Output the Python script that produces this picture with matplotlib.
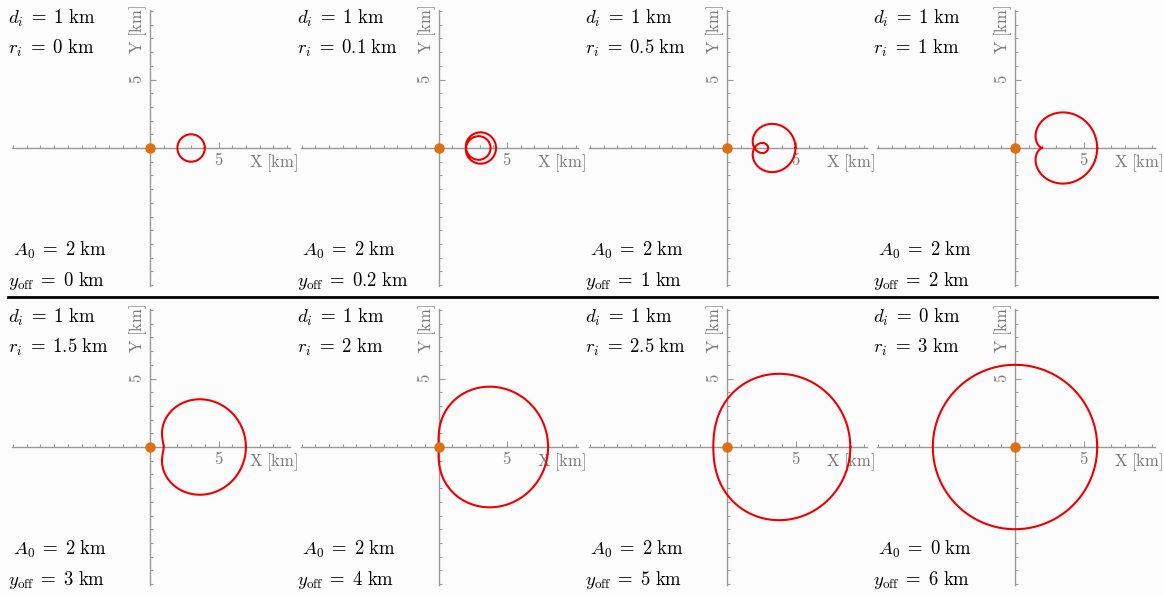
import numpy as np
import matplotlib
matplotlib.use('Agg')
import matplotlib.pyplot as plt
from matplotlib.lines import Line2D
from matplotlib.ticker import FixedLocator, MultipleLocator, FixedFormatter

plt.rcParams['mathtext.fontset'] = 'cm'
plt.rcParams['font.family'] = 'serif'
plt.rcParams['font.serif'] = ['DejaVu Serif']

# orbit parameters, one entry per panel (row-major)
d_i = [1, 1, 1, 1, 1, 1, 1, 0]
r_i = [0, 0.1, 0.5, 1, 1.5, 2, 2.5, 3]
A_0 = [2, 2, 2, 2, 2, 2, 2, 0]
y_off = [0, 0.2, 1, 2, 3, 4, 5, 6]

W, H = 1164, 595
scale = 13.7                      # px per km
origin_x = [150, 438.5, 727, 1015]
origin_y = [148, 447]
xlim = (-10.05, 10.2)
ylim = (-10.1, 10.1)
axis_col = '#9a9a9a'
label_col = '#7a7a7a'

fig = plt.figure(figsize=(W / 100, H / 100), dpi=100, facecolor='#fcfcfc')

for k in range(8):
    row, col = divmod(k, 4)
    ox, oy = origin_x[col], origin_y[row]
    left = (ox + xlim[0] * scale) / W
    bottom = 1 - (oy - ylim[0] * scale) / H
    width = (xlim[1] - xlim[0]) * scale / W
    height = (ylim[1] - ylim[0]) * scale / H
    ax = fig.add_axes([left, bottom, width, height])
    ax.patch.set_alpha(0)
    ax.set_xlim(xlim)
    ax.set_ylim(ylim)

    for side in ['top', 'right']:
        ax.spines[side].set_visible(False)
    for side in ['left', 'bottom']:
        ax.spines[side].set_position('zero')
        ax.spines[side].set_color(axis_col)
        ax.spines[side].set_linewidth(1.0)

    ax.xaxis.set_major_locator(FixedLocator([5]))
    ax.xaxis.set_major_formatter(FixedFormatter([r'$5$']))
    ax.yaxis.set_major_locator(FixedLocator([5]))
    ax.yaxis.set_major_formatter(FixedFormatter([r'$5$']))
    ax.xaxis.set_minor_locator(MultipleLocator(1))
    ax.yaxis.set_minor_locator(MultipleLocator(1))
    ax.tick_params(which='both', direction='in', color=axis_col, width=0.8,
                   labelcolor=label_col, labelsize=12)
    ax.tick_params(which='major', length=4, pad=3)
    ax.tick_params(which='minor', length=2.5)
    for lab in ax.get_yticklabels():
        lab.set_rotation(90)
        lab.set_va('center')

    ax.text(7.2, -0.3, r'$\mathrm{X\ [km]}$', color=label_col, fontsize=12,
            ha='left', va='top', clip_on=False)
    ax.text(-0.85, 10.45, r'$\mathrm{Y\ [km]}$', color=label_col, fontsize=12,
            rotation=90, ha='center', va='top', clip_on=False)

    # limacon traced by the target (closes after half a turn when y_off is 0)
    d, a0, yo = d_i[k], A_0[k], y_off[k]
    period = np.pi if yo == 0 else 2 * np.pi
    t = np.linspace(0, period, 800)
    x = a0 + d + d * np.cos(2 * t) + yo * np.cos(t)
    y = d * np.sin(2 * t) + yo * np.sin(t)
    ax.plot(x, y, color='#ee0000', lw=1.5, clip_on=False, zorder=3)
    ax.plot([0], [0], 'o', color='#dd7010', ms=6.5, zorder=4, clip_on=False)

    fs = 13.5
    ax.text(-10.36, 9.07, r'$d_i\;=\;%g\ \mathrm{km}$' % d, fontsize=fs,
            ha='left', va='baseline', clip_on=False)
    ax.text(-10.36, 6.88, r'$r_i\;=\;%g\ \mathrm{km}$' % r_i[k], fontsize=fs,
            ha='left', va='baseline', clip_on=False)
    ax.text(-10.0, -7.88, r'$A_0\;=\;%g\ \mathrm{km}$' % a0, fontsize=fs,
            ha='left', va='baseline', clip_on=False)
    ax.text(-10.36, -10.07, r'$y_{\mathrm{off}}\;=\;%g\ \mathrm{km}$' % yo,
            fontsize=fs, ha='left', va='baseline', clip_on=False)

# separator between the two rows
fig.add_artist(Line2D([8 / W, 1157 / W], [1 - 297 / H, 1 - 297 / H],
                      color='black', lw=2.0, transform=fig.transFigure))

fig.savefig('out.png', dpi=100, facecolor=fig.get_facecolor())
